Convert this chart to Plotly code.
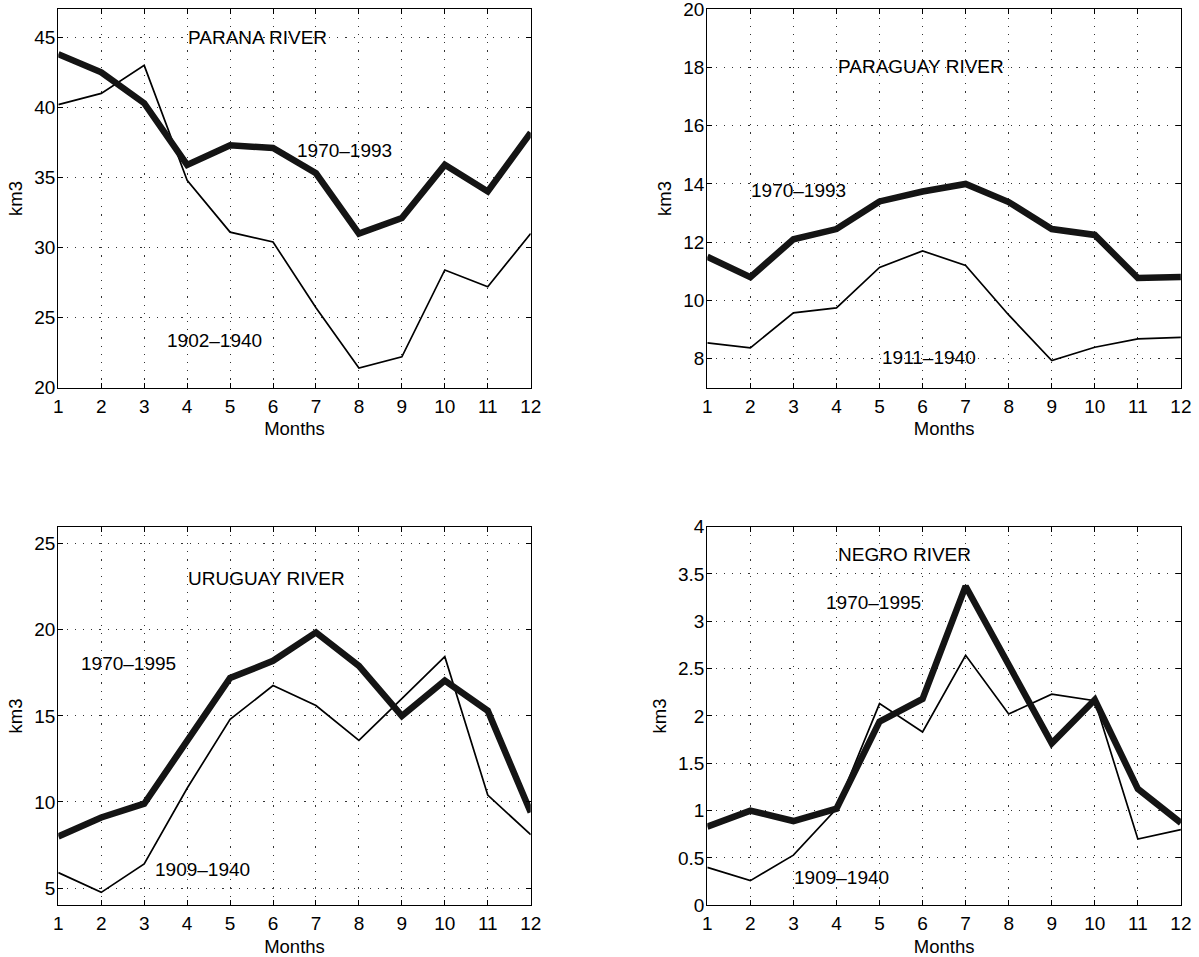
import plotly.graph_objects as go
from plotly.subplots import make_subplots

months = list(range(1, 13))

# PARANA RIVER
parana_recent = [43.8, 42.5, 40.3, 35.9, 37.3, 37.1, 35.3, 31.0, 32.1, 35.9, 34.0, 38.2]
parana_early = [40.2, 41.0, 43.0, 34.8, 31.1, 30.4, 25.7, 21.4, 22.2, 28.4, 27.2, 31.0]

# PARAGUAY RIVER
paraguay_recent = [11.5, 10.8, 12.1, 12.45, 13.4, 13.74, 14.0, 13.38, 12.45, 12.25, 10.77, 10.8]
paraguay_early = [8.54, 8.37, 9.57, 9.74, 11.13, 11.7, 11.2, 9.5, 7.93, 8.39, 8.68, 8.73]

# URUGUAY RIVER
uruguay_recent = [8.0, 9.1, 9.9, 13.5, 17.2, 18.2, 19.85, 17.9, 15.0, 17.05, 15.3, 9.4]
uruguay_early = [5.9, 4.75, 6.4, 10.8, 14.8, 16.76, 15.6, 13.58, 16.0, 18.44, 10.4, 8.1]

# NEGRO RIVER
negro_recent = [0.83, 1.0, 0.89, 1.02, 1.94, 2.18, 3.37, 2.55, 1.71, 2.17, 1.23, 0.87]
negro_early = [0.40, 0.26, 0.53, 1.02, 2.13, 1.83, 2.64, 2.02, 2.23, 2.16, 0.70, 0.80]

FONT = "Liberation Sans, Arial, Helvetica, sans-serif"

panels = [
    dict(row=1, col=1, recent=parana_recent, early=parana_early,
         yr=[20, 47], dt=5, t0=20,
         labels=[("PARANA RIVER", 4.02, 44.95), ("1970\u20131993", 6.55, 36.85), ("1902\u20131940", 3.52, 23.3)]),
    dict(row=1, col=2, recent=paraguay_recent, early=paraguay_early,
         yr=[7, 20.002], dt=2, t0=8,
         labels=[("PARAGUAY RIVER", 4.03, 18.0), ("1970\u20131993", 2.02, 13.74), ("1911\u20131940", 5.05, 8.0)]),
    dict(row=2, col=1, recent=uruguay_recent, early=uruguay_early,
         yr=[4, 26], dt=5, t0=5,
         labels=[("URUGUAY RIVER", 4.01, 22.93), ("1970\u20131995", 1.54, 17.96), ("1909\u20131940", 3.25, 6.0)]),
    dict(row=2, col=2, recent=negro_recent, early=negro_early,
         yr=[0, 4.0005], dt=0.5, t0=0,
         labels=[("NEGRO RIVER", 4.03, 3.69), ("1970\u20131995", 3.75, 3.19), ("1909\u20131940", 3.02, 0.28)]),
]

# the page's body margin is removed below, so the figure fills the window
W, H, OFF = 1199, 957, 0


def px_x(a, b):
    return [(a - OFF) / W, (b - OFF) / W]


def px_y(top, bottom):
    return [(H + OFF - bottom) / H, (H + OFF - top) / H]


xdom = {1: px_x(58.3, 530.7), 2: px_x(707.3, 1180.9)}
ydom = {1: px_y(9.3, 387.7), 2: px_y(526.5, 905.3)}

fig = make_subplots(rows=2, cols=2)

for i, p in enumerate(panels):
    r, c = p["row"], p["col"]
    fig.add_trace(go.Scatter(x=months, y=p["early"], mode="lines",
                             line=dict(color="black", width=1.7), showlegend=False), row=r, col=c)
    fig.add_trace(go.Scatter(x=months, y=p["recent"], mode="lines",
                             line=dict(color="#141414", width=6.5), showlegend=False), row=r, col=c)
    axis_common = dict(showline=True, linecolor="black", linewidth=1.2, mirror="allticks",
                       ticks="inside", ticklen=5, tickcolor="black", automargin=False,
                       ticklabeloverflow="allow",
                       showgrid=True, gridcolor="#333333", gridwidth=1, griddash="1.2px,7px",
                       zeroline=False, tickfont=dict(family=FONT, size=19, color="black"))
    fig.update_xaxes(range=[1, 12], tickmode="linear", tick0=1, dtick=1,
                     domain=xdom[c], ticklabelstandoff=1,
                     title=dict(text="Months", font=dict(family=FONT, size=18.5, color="black"), standoff=6),
                     row=r, col=c, **axis_common)
    fig.update_yaxes(range=p["yr"], tickmode="linear", tick0=p["t0"], dtick=p["dt"],
                     domain=ydom[r], ticklabelstandoff=-2,
                     title=dict(text="km3", font=dict(family=FONT, size=18.5, color="black"), standoff=6),
                     row=r, col=c, **axis_common)
    xref = "x" if i == 0 else f"x{i+1}"
    yref = "y" if i == 0 else f"y{i+1}"
    for txt, xx, yy in p["labels"]:
        fig.add_annotation(x=xx, y=yy, xref=xref, yref=yref, text=txt, showarrow=False,
                           xanchor="left", yanchor="middle", xshift=-2, yshift=1,
                           font=dict(family=FONT, size=19, color="black"))

fig.update_layout(width=W, height=H, margin=dict(l=0, r=0, t=0, b=0),
                  paper_bgcolor="white", plot_bgcolor="white")

fig.write_html("out.html", config={"displayModeBar": False},
               post_script="document.body.style.margin='0px';document.body.style.overflow='hidden';")
